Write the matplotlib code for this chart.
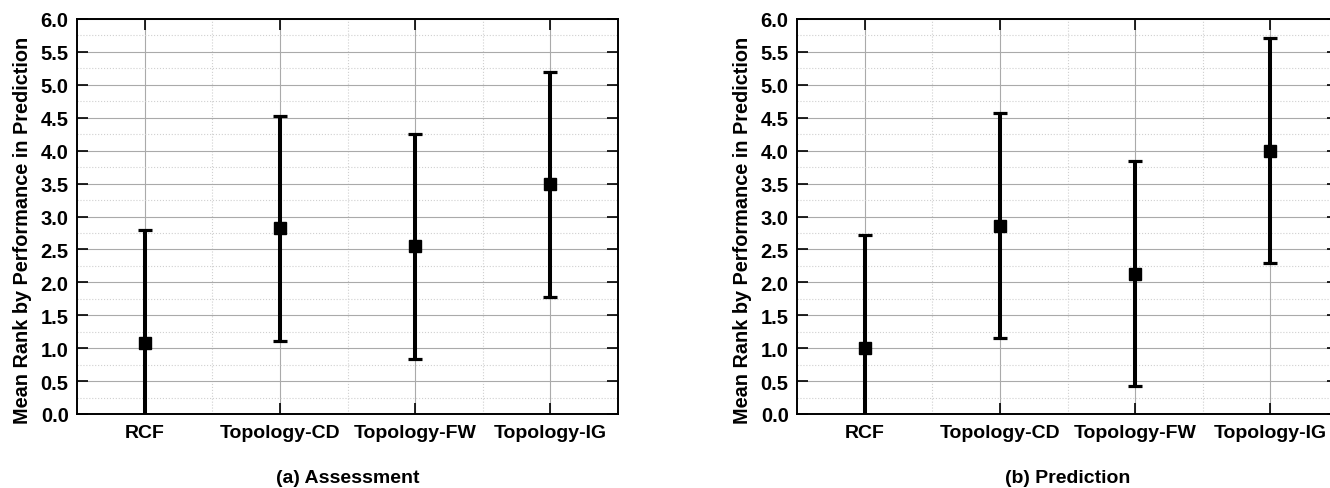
import matplotlib
matplotlib.use("Agg")
import matplotlib.pyplot as plt
from matplotlib.ticker import MultipleLocator, FixedLocator, FormatStrFormatter

plt.rcParams["font.family"] = ["Liberation Sans", "DejaVu Sans"]
plt.rcParams["font.weight"] = "bold"

categories = ["RCF", "Topology-CD", "Topology-FW", "Topology-IG"]

assess_mean = [1.08, 2.82, 2.55, 3.49]
assess_err = [1.72, 1.71, 1.71, 1.71]

predict_mean = [1.01, 2.86, 2.13, 4.00]
predict_err = [1.71, 1.71, 1.71, 1.71]

captions = ["(a) Assessment", "(b) Prediction"]
ylabel = "Mean Rank by Performance in Prediction"


def draw_panel(ax, means, errs, caption):
    xs = list(range(len(categories)))
    ax.errorbar(xs, means, yerr=errs, fmt="s", color="black", ecolor="black",
                markersize=8.5, elinewidth=2.9, capsize=5, capthick=2.3, zorder=3)
    ax.set_xlim(-0.5, len(categories) - 0.5)
    ax.set_ylim(0, 6)
    ax.xaxis.set_major_locator(FixedLocator(xs))
    ax.xaxis.set_minor_locator(FixedLocator([x + 0.5 for x in xs[:-1]]))
    ax.set_xticklabels(categories)
    ax.yaxis.set_major_locator(MultipleLocator(0.5))
    ax.yaxis.set_minor_locator(MultipleLocator(0.25))
    ax.yaxis.set_major_formatter(FormatStrFormatter("%.1f"))

    ax.grid(which="major", color="#aaaaaa", linestyle="-", linewidth=0.8)
    ax.grid(which="minor", color="#d0d0d0", linestyle=":", linewidth=0.8)
    ax.set_axisbelow(True)

    ax.tick_params(which="major", direction="in", length=8, width=1.2,
                   top=True, right=True)
    ax.tick_params(axis="y", labelsize=14.5, pad=6)
    ax.tick_params(axis="x", labelsize=14, pad=7)
    ax.tick_params(which="minor", length=0)
    for lab in ax.get_xticklabels() + ax.get_yticklabels():
        lab.set_fontweight("bold")
    for sp in ax.spines.values():
        sp.set_linewidth(1.4)

    ax.set_ylabel(ylabel, fontsize=14.3, fontweight="bold")
    ax.yaxis.set_label_coords(-0.083, 0.468)
    ax.text(0.5, -0.14, caption, transform=ax.transAxes, ha="center", va="top",
            fontsize=14, fontweight="bold")


fig = plt.figure(figsize=(13.3, 4.89), dpi=100)
ax1 = fig.add_axes([77 / 1330, 74 / 489, 541 / 1330, 395 / 489])
ax2 = fig.add_axes([797 / 1330, 74 / 489, 541 / 1330, 395 / 489])

draw_panel(ax1, assess_mean, assess_err, captions[0])
draw_panel(ax2, predict_mean, predict_err, captions[1])

fig.savefig("out.png", dpi=100)
